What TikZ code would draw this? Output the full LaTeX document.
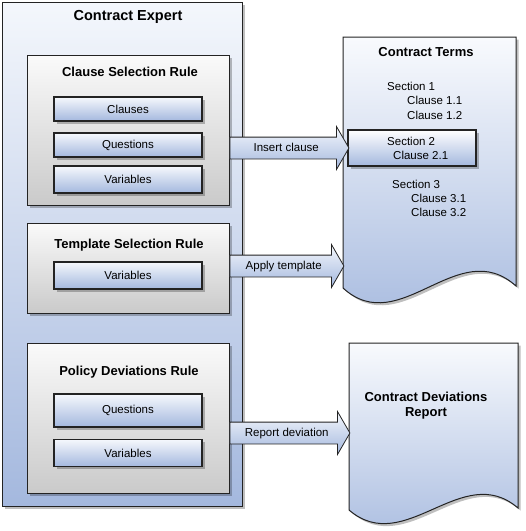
\documentclass[tikz,border=0pt]{standalone}
\usepackage{fontspec}
\setmainfont{Liberation Sans}
\usetikzlibrary{shapes.arrows,shadows}
\pgfdeclarelayer{boxlayer}
\pgfdeclarelayer{arrowlayer}
\pgfsetlayers{boxlayer,arrowlayer,main}
\definecolor{paleblue}{RGB}{244,247,252}
\definecolor{midblue}{RGB}{164,184,222}
\definecolor{palegrey}{RGB}{250,250,250}
\definecolor{midgrey}{RGB}{202,202,202}
\definecolor{edge}{RGB}{35,35,35}
\tikzstyle{shadowed}=[drop shadow={shadow xshift=2.5pt, shadow yshift=-2.5pt, fill=black, opacity=0.25}]
\tikzstyle{expert}=[draw=edge, line width=1pt, top color=paleblue, bottom color=midblue, shadowed]
\tikzstyle{rule}=[draw=edge, line width=1pt, top color=palegrey, bottom color=midgrey, shadowed, minimum width=202pt]
\tikzstyle{item}=[draw=edge, line width=1.2pt, top color=paleblue!85!white, bottom color=midblue, shadowed, minimum width=148pt, font=\fontsize{11.5}{14}\selectfont]
\tikzstyle{document}=[draw=edge, line width=1pt, top color=paleblue!60!white, bottom color=midblue, shadowed]
\tikzstyle{block arrow}=[single arrow, single arrow head extend=10.5pt, single arrow tip angle=120, draw=edge, line width=0.8pt, top color=paleblue, bottom color=midblue, inner xsep=0pt, inner ysep=5pt, text height=8.5pt, text depth=2.5pt, anchor=tail, font=\fontsize{11.5}{14}\selectfont]
\tikzstyle{title}=[font=\bfseries\fontsize{13}{15}\selectfont]
\tikzstyle{line}=[anchor=west, inner sep=0pt, font=\fontsize{11.5}{14}\selectfont]

\begin{document}
\begin{tikzpicture}[x=1pt, y=-1pt]
    \useasboundingbox (0,0) rectangle (526,531);
    \begin{pgfonlayer}{boxlayer}
        \node [style=expert, minimum width=240pt, minimum height=504pt] (0) at (122,254) {};
        \node [style=rule, minimum height=150pt] (1) at (128,130) {};
        \node [style=rule, minimum height=90pt] (2) at (128,268) {};
        \node [style=rule, minimum height=150pt] (3) at (128,418) {};
        \node [style=item, minimum height=24pt] (4) at (128,109) {Clauses};
        \node [style=item, minimum height=24pt] (5) at (128,145) {Questions};
        \node [style=item, minimum height=27pt] (6) at (128,179.5) {Variables};
        \node [style=item, minimum height=27pt] (7) at (128,275.5) {Variables};
        \node [style=item, minimum height=33pt] (8) at (128,410.5) {Questions};
        \node [style=item, minimum height=27.5pt] (9) at (128,453) {Variables};
        % documents
        \path [style=document] (343,37) -- (516,37) -- (516,286)
            .. controls (458,234) and (400,340) .. (343,288) -- cycle;
        \path [style=document] (349,343) -- (518,343) -- (518,508)
            .. controls (462,460) and (405,558) .. (349,510) -- cycle;
        \node [style=item, minimum width=128pt, minimum height=36pt, top color=white] (10) at (412,148) {};
        \coordinate (11) at (343,266);
        \coordinate (12) at (349,433);
    \end{pgfonlayer}
    \begin{pgfonlayer}{arrowlayer}
        \node [style=block arrow, minimum height=119pt] (13) at (1.east |- 10.west) {Insert clause};
        \node [style=block arrow, minimum height=114pt] (14) at (2.east |- 11) {Apply template};
        \node [style=block arrow, minimum height=120pt] (15) at (3.east |- 12) {Report deviation};
    \end{pgfonlayer}
    % titles
    \node [font=\bfseries\fontsize{14.5}{17}\selectfont] (16) at (128,17) {Contract Expert};
    \node [style=title] (17) at (130,72) {Clause Selection Rule};
    \node [style=title] (18) at (129,245) {Template Selection Rule};
    \node [style=title] (19) at (129,372) {Policy Deviations Rule};
    \node [style=title] (20) at (426,52) {Contract Terms};
    \node [style=title, align=center] (21) at (426,406) {Contract Deviations\\Report};
    % contract terms
    \node [style=line] (22) at (387,86) {Section 1};
    \node [style=line] (23) at (407,100) {Clause 1.1};
    \node [style=line] (24) at (407,115) {Clause 1.2};
    \node [style=line] (25) at (387,141) {Section 2};
    \node [style=line] (26) at (393,155) {Clause 2.1};
    \node [style=line] (27) at (392,184) {Section 3};
    \node [style=line] (28) at (411,198) {Clause 3.1};
    \node [style=line] (29) at (411,212) {Clause 3.2};
\end{tikzpicture}
\end{document}
